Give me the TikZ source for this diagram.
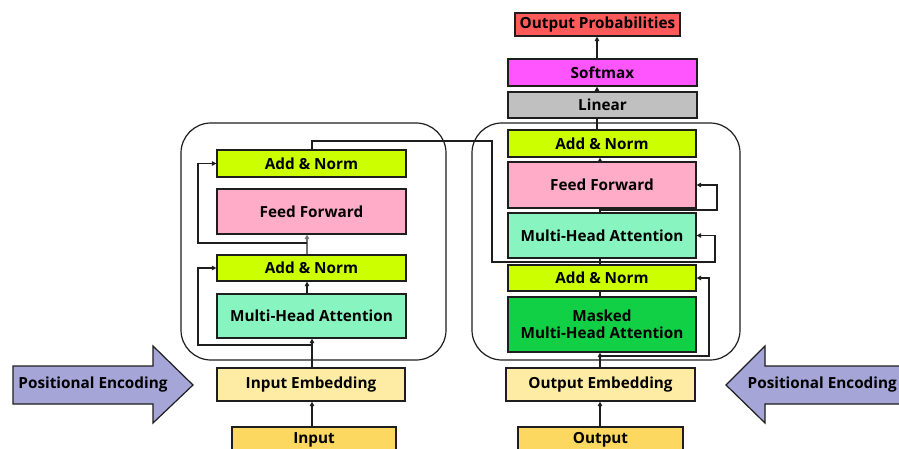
\documentclass[tikz,border=0pt]{standalone}
\usepackage{fontspec}
\setmainfont{Open Sans}
\usetikzlibrary{arrows.meta}

\definecolor{addnorm}{RGB}{204,255,0}
\definecolor{ffpink}{RGB}{255,172,200}
\definecolor{mhagreen}{RGB}{136,245,192}
\definecolor{maskgreen}{RGB}{18,208,70}
\definecolor{lingray}{RGB}{192,192,192}
\definecolor{softmag}{RGB}{255,85,255}
\definecolor{probred}{RGB}{255,90,90}
\definecolor{embyellow}{RGB}{255,236,164}
\definecolor{inyellow}{RGB}{252,216,96}
\definecolor{pelav}{RGB}{165,165,215}
\definecolor{inkline}{RGB}{30,30,30}

\tikzset{
  blk/.style={draw=inkline, line width=1.2pt, inner sep=0pt, align=center,
              font=\fontsize{15.3}{17}\selectfont\bfseries},
  link/.style={draw=inkline, line width=1.3pt},
  thicklink/.style={draw=inkline, line width=2.4pt},
  toarrow/.style={-{Triangle[length=4.5pt,width=4.5pt]}},
  container/.style={draw=inkline, line width=1.2pt, rounded corners=30pt},
  pearrow/.style={draw=inkline, line width=1.2pt, fill=pelav},
  petext/.style={inner sep=0pt, font=\fontsize{15.3}{17}\selectfont\bfseries}
}

\begin{document}
\begin{tikzpicture}[x=1pt,y=-1pt]
\useasboundingbox (0,0) rectangle (899,449);
\fill[white] (0,0) rectangle (899,449);

% encoder and decoder containers
\draw[container] (181,123) rectangle (446,360);
\draw[container] (472,123) rectangle (740,360);

% encoder blocks
\node[blk, fill=addnorm,   minimum width=189pt, minimum height=27pt] (encAN2) at (311.5,163.5) {Add \& Norm};
\node[blk, fill=ffpink,    minimum width=189pt, minimum height=45pt] (encFF)  at (311.5,211.5) {Feed Forward};
\node[blk, fill=addnorm,   minimum width=189pt, minimum height=26pt] (encAN1) at (311.5,268)   {Add \& Norm};
\node[blk, fill=mhagreen,  minimum width=189pt, minimum height=44pt] (encMHA) at (311.5,316)   {Multi-Head Attention};
\node[blk, fill=embyellow, minimum width=188pt, minimum height=33pt] (inEmb)  at (311,384.5)   {Input Embedding};
\node[blk, fill=inyellow,  minimum width=164pt, minimum height=25pt] (input)  at (314,439.5)   {Input};

% decoder blocks
\node[blk, fill=addnorm,   minimum width=188pt, minimum height=27pt] (decAN2)  at (602,143.5) {Add \& Norm};
\node[blk, fill=ffpink,    minimum width=188pt, minimum height=46pt] (decFF)   at (602,185)   {Feed Forward};
\node[blk, fill=mhagreen,  minimum width=188pt, minimum height=45pt] (decMHA)  at (602,235.5) {Multi-Head Attention};
\node[blk, fill=addnorm,   minimum width=188pt, minimum height=26pt] (decAN1)  at (602,278)   {Add \& Norm};
\node[blk, fill=maskgreen, minimum width=188pt, minimum height=55pt] (decMMHA) at (602,324.5) {Masked\\Multi-Head Attention};
\node[blk, fill=embyellow, minimum width=189pt, minimum height=33pt] (outEmb)  at (600.5,384.5) {Output Embedding};
\node[blk, fill=inyellow,  minimum width=165pt, minimum height=25pt] (output)  at (600.5,439.5) {Output};

% output head
\node[blk, fill=lingray,   minimum width=189pt, minimum height=26pt] (linear)  at (602.5,105)  {Linear};
\node[blk, fill=softmag,   minimum width=189pt, minimum height=27pt] (softmax) at (602.5,72.5) {Softmax};
\node[blk, fill=probred,   minimum width=165pt, minimum height=23pt] (outProb) at (597.5,24.5) {Output Probabilities};

% positional encoding arrows
\draw[pearrow] (13,366) -- (153,366) -- (153,346) -- (193,385) -- (153,423) -- (153,404) -- (13,404) -- cycle;
\node[petext] (peL) at (93,385) {Positional Encoding};
\draw[pearrow] (910,366) -- (765,366) -- (765,346) -- (726,385) -- (765,423) -- (765,404) -- (910,404) -- cycle;
\node[petext, anchor=east] (peR) at (897,385) {Positional Encoding};

% guide columns for the vertical connectors
\coordinate (ex)  at (312,0);
\coordinate (ex2) at (307,0);
\coordinate (el)  at (198,0);
\coordinate (dx)  at (600,0);
\coordinate (dt)  at (597,0);
\coordinate (dr3) at (709,0);
\coordinate (dr4) at (717,0);

% encoder connectors
\draw[thicklink, toarrow] (input.north -| ex) -- (inEmb.south -| ex);
\draw[link, line width=1.8pt, toarrow] (inEmb.north -| ex) -- (encMHA.south -| ex);
\coordinate (r1) at (312,345);
\draw[link, toarrow] (r1) -- (r1 -| el) |- (encAN1.west);
\draw[link, toarrow] (encMHA.north -| ex2) -- (encAN1.south -| ex2);
\draw[link, draw=black!55, toarrow] (encAN1.north -| ex2) -- (encFF.south -| ex2);
\coordinate (r2) at (307,243);
\draw[link, toarrow] (r2) -- (r2 -| el) |- (encAN2.west);

% encoder output into the decoder attention
\coordinate (m1) at (492,141);
\coordinate (m2) at (715,262);
\draw[link, toarrow] (encAN2.north -| ex) |- (m1) -- (m1 |- m2) -- (m2) |- (decMHA.east);

% decoder connectors
\draw[thicklink, line width=2pt, toarrow] (output.north -| dx) -- (outEmb.south -| dx);
\draw[link, line width=1.8pt, toarrow] (outEmb.north -| dx) -- (decMMHA.south -| dx);
\coordinate (r3) at (600,356);
\draw[link, toarrow] (r3) -- (r3 -| dr3) |- (decAN1.east);
\draw[link] (decMMHA.north -| dx) -- (decAN1.south -| dx);
\draw[link] (decAN1.north -| dx) -- (decMHA.south -| dx);
\coordinate (r4) at (600,210);
\draw[link, toarrow] (r4) -- (r4 -| dr4) |- (decFF.east);
\draw[link] (decMHA.north -| dx) -- (decFF.south -| dx);
\draw[link, toarrow] (decFF.north -| dx) -- (decAN2.south -| dx);

% output head connectors
\draw[link, line width=1.8pt] (decAN2.north -| dt) -- (linear.south -| dt);
\draw[link, toarrow] (linear.north -| dt) -- (softmax.south -| dt);
\draw[thicklink, toarrow] (softmax.north -| dt) -- (outProb.south -| dt);
\end{tikzpicture}
\end{document}
